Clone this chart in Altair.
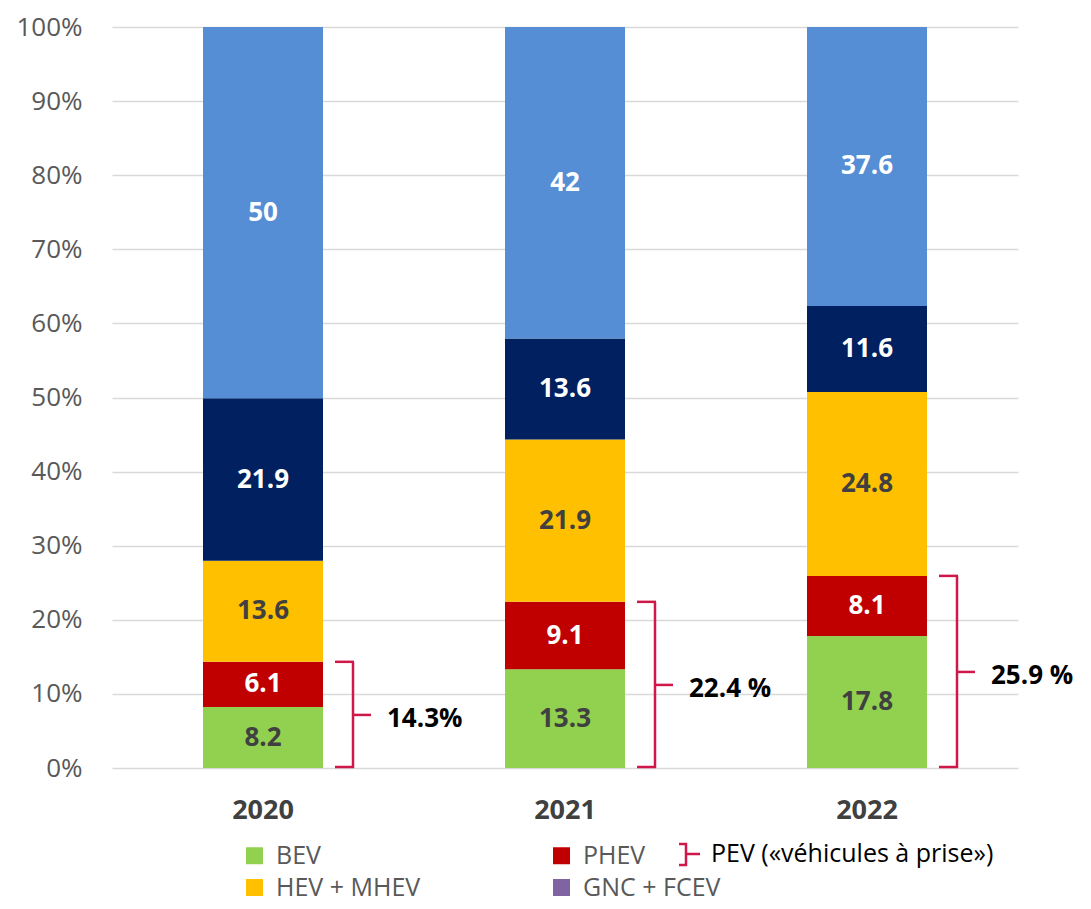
import altair as alt
import pandas as pd

years = ["2020", "2021", "2022"]
series = ["BEV", "PHEV", "HEV + MHEV", "Diesel", "Essence"]
legend_series = ["BEV", "PHEV", "HEV + MHEV", "GNC + FCEV"]
bev = [8.2, 13.3, 17.8]
phev = [6.1, 9.1, 8.1]
hev = [13.6, 21.9, 24.8]
diesel = [21.9, 13.6, 11.6]
essence = [50, 42, 37.6]
pev_labels = ["14.3%", "22.4 %", "25.9 %"]
pev_legend = ["PEV («véhicules à prise»)"]

color_domain = ["BEV", "PHEV", "HEV + MHEV", "Diesel", "Essence", "GNC + FCEV"]
color_range = ["#92D050", "#C00000", "#FFC000", "#002060", "#558ED5", "#8064A2"]
dark_label_series = ["BEV", "HEV + MHEV"]
BRACKET = "#D0174A"
FONT = "Open Sans"

values = [bev, phev, hev, diesel, essence]
rows = []
brackets = []
for i, y in enumerate(years):
    total = sum(v[i] for v in values)
    cum = 0.0
    for s, v in zip(series, values):
        val = v[i]
        rows.append({
            "year": y, "series": s, "order": series.index(s),
            "y0": cum / total, "y1": (cum + val) / total,
            "mid": (cum + val / 2) / total, "label": f"{val:g}",
        })
        cum += val
    pev_top = (bev[i] + phev[i]) / total
    brackets.append({"year": y, "top": pev_top, "mid": pev_top / 2,
                     "zero": 0.0, "label": pev_labels[i]})

df = pd.DataFrame(rows)
bdf = pd.DataFrame(brackets)
ldf = pd.DataFrame({"t": pev_legend})

x_enc = alt.X("year:N", sort=years,
              scale=alt.Scale(paddingInner=0.6, paddingOuter=0.3),
              axis=alt.Axis(title=None, labelAngle=0, labelFontSize=27,
                            labelFontWeight="bold", labelColor="#404040",
                            labelPadding=29, domain=False, ticks=False, grid=False))
y_scale = alt.Scale(domain=[0, 1], nice=False)

bars = alt.Chart(df).mark_bar(size=120).encode(
    x=x_enc,
    y=alt.Y("y1:Q", scale=y_scale,
            axis=alt.Axis(title=None, format=".0%", values=[i / 10 for i in range(11)],
                          labelFontSize=26, labelColor="#595959", labelPadding=30,
                          ticks=False, tickSize=0, domain=False,
                          gridColor="#D9D9D9", gridWidth=1.5)),
    y2="y0:Q",
    color=alt.Color("series:N",
                    scale=alt.Scale(domain=color_domain, range=color_range),
                    legend=alt.Legend(title=None, values=legend_series, columns=2,
                                      direction="horizontal",
                                      orient="none", legendX=130, legendY=816,
                                      symbolType="square", symbolSize=289,
                                      symbolStrokeWidth=0, labelFontSize=25,
                                      labelColor="#595959", labelOffset=9,
                                      rowPadding=6, columnPadding=128,
                                      labelFont=FONT)),
    order="order:Q",
)

labels = alt.Chart(df).mark_text(font=FONT, fontSize=26, fontWeight="bold",
                                 baseline="middle").encode(
    x=alt.X("year:N", sort=years),
    y=alt.Y("mid:Q", scale=y_scale),
    text="label:N",
    color=alt.condition(alt.FieldOneOfPredicate(field="series", oneOf=dark_label_series),
                        alt.value("#404040"), alt.value("white")),
)

vline = alt.Chart(bdf).mark_rule(color=BRACKET, strokeWidth=2.5, xOffset=90).encode(
    x=alt.X("year:N", sort=years), y=alt.Y("top:Q", scale=y_scale), y2="zero:Q")
top_end = alt.Chart(bdf).mark_rule(color=BRACKET, strokeWidth=2.5, xOffset=72,
                                   x2Offset=91).encode(
    x=alt.X("year:N", sort=years), x2="year:N", y=alt.Y("top:Q", scale=y_scale))
bot_end = alt.Chart(bdf).mark_rule(color=BRACKET, strokeWidth=2.5, xOffset=72,
                                   x2Offset=91, yOffset=-1).encode(
    x=alt.X("year:N", sort=years), x2="year:N", y=alt.Y("zero:Q", scale=y_scale))
tick = alt.Chart(bdf).mark_rule(color=BRACKET, strokeWidth=2.5, xOffset=90,
                                x2Offset=108).encode(
    x=alt.X("year:N", sort=years), x2="year:N", y=alt.Y("mid:Q", scale=y_scale))
pev_text = alt.Chart(bdf).mark_text(font=FONT, fontSize=26, fontWeight="bold",
                                    align="left", baseline="middle", dx=124, dy=4,
                                    color="black").encode(
    x=alt.X("year:N", sort=years), y=alt.Y("mid:Q", scale=y_scale), text="label:N")

# legend entry for the bracket
lg_v = alt.Chart(ldf).mark_rule(color=BRACKET, strokeWidth=2.5).encode(
    x=alt.value(574), y=alt.value(816), y2=alt.value(839))
lg_t = alt.Chart(ldf).mark_rule(color=BRACKET, strokeWidth=2.5).encode(
    x=alt.value(567), x2=alt.value(575), y=alt.value(817))
lg_b = alt.Chart(ldf).mark_rule(color=BRACKET, strokeWidth=2.5).encode(
    x=alt.value(567), x2=alt.value(575), y=alt.value(838))
lg_m = alt.Chart(ldf).mark_rule(color=BRACKET, strokeWidth=2.5).encode(
    x=alt.value(574), x2=alt.value(588), y=alt.value(827))
lg_text = alt.Chart(ldf).mark_text(font=FONT, fontSize=25, align="left",
                                   baseline="middle", color="black").encode(
    x=alt.value(599), y=alt.value(827), text="t:N")

chart = alt.layer(bars, labels, vline, top_end, bot_end, tick, pev_text,
                  lg_v, lg_t, lg_b, lg_m, lg_text).properties(
    width=906, height=741,
    autosize=alt.AutoSizeParams(type="none"),
    padding={"left": 104, "top": 19, "right": 62, "bottom": 133},
).configure(font=FONT).configure_view(stroke=None).configure_axis(labelFont=FONT)

chart.save("out.html", embed_options={"renderer": "svg", "actions": False})
